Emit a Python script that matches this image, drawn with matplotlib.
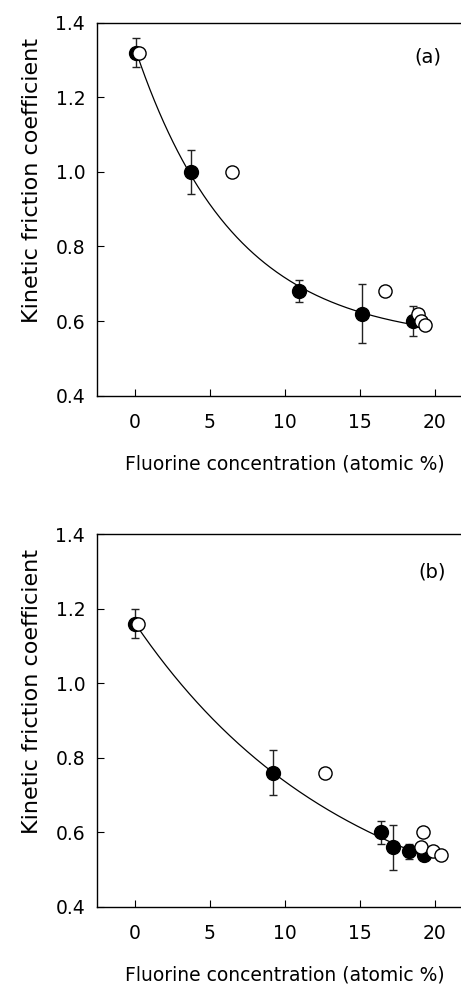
import numpy as np
import matplotlib
matplotlib.use("Agg")
import matplotlib.pyplot as plt

plt.rcParams['font.family'] = ['DejaVu Sans']

# Panel (a)
a_filled_x = [0.1, 3.78, 10.95, 15.18, 18.56]
a_filled_y = [1.32, 1.00, 0.68, 0.62, 0.60]
a_filled_err = [0.04, 0.06, 0.03, 0.08, 0.04]
a_open_x = [0.33, 6.5, 16.7, 18.9, 19.1, 19.35]
a_open_y = [1.32, 1.00, 0.68, 0.62, 0.60, 0.59]

# Panel (b)
b_filled_x = [0.05, 9.2, 16.4, 17.2, 18.3, 19.3]
b_filled_y = [1.16, 0.76, 0.60, 0.56, 0.55, 0.54]
b_filled_err = [0.04, 0.06, 0.03, 0.06, 0.02, 0.0]
b_open_x = [0.25, 12.7, 19.2, 19.1, 19.9, 20.4]
b_open_y = [1.16, 0.76, 0.60, 0.56, 0.55, 0.54]

xticks = [0, 5, 10, 15, 20]
yticks = [0.4, 0.6, 0.8, 1.0, 1.2, 1.4]
panel_labels = ['(a)', '(b)']
panel_label_pos = [(0.883, 0.908), (0.893, 0.898)]


def fit_exp(x, y):
    x = np.asarray(x, float)
    y = np.asarray(y, float)
    best = None
    for b in np.linspace(0.01, 1.0, 2000):
        A = np.vstack([np.ones_like(x), np.exp(-b * x)]).T
        coef, *_ = np.linalg.lstsq(A, y, rcond=None)
        r = np.sum((A @ coef - y) ** 2)
        if best is None or r < best[0]:
            best = (r, b, coef)
    _, b, (c, a) = best
    return c, a, b


fig = plt.figure(figsize=(4.61, 9.90), dpi=100)
W = 375 / 461
H = 373 / 990
positions = [(97 / 461, 1 - 395.7 / 990, W, H), (97 / 461, 1 - 907 / 990, W, H)]
datasets = [
    (a_filled_x, a_filled_y, a_filled_err, a_open_x, a_open_y),
    (b_filled_x, b_filled_y, b_filled_err, b_open_x, b_open_y),
]

for pos, (fx, fy, fe, ox, oy), lab, lpos in zip(positions, datasets, panel_labels, panel_label_pos):
    ax = fig.add_axes(pos)
    ax.set_xlim(-2.5, 22.5)
    ax.set_ylim(0.4, 1.4)
    c, a, b = fit_exp(fx, fy)
    xx = np.linspace(min(fx), max(fx), 300)
    ax.plot(xx, c + a * np.exp(-b * xx), color='black', lw=0.9, zorder=2)
    ax.errorbar(fx, fy, yerr=fe, fmt='none', ecolor='#222222', elinewidth=1.0,
                capsize=3, capthick=1.0, zorder=3)
    ax.plot(fx, fy, 'o', ms=10, mfc='black', mec='black', zorder=4)
    ax.plot(ox, oy, 'o', ms=9.5, mfc='white', mec='black', mew=1.0, zorder=5)
    ax.set_xticks(xticks)
    ax.set_yticks(yticks)
    ax.set_yticklabels([f'{v:.1f}' for v in yticks])
    ax.tick_params(direction='in', length=5, width=0.8, labelsize=13.5)
    ax.tick_params(axis='x', pad=12.5)
    ax.tick_params(axis='y', pad=8.5)
    for s in ax.spines.values():
        s.set_linewidth(1.0)
    ax.set_xlabel('Fluorine concentration (atomic %)', fontsize=13.5, labelpad=16)
    ax.set_ylabel('Kinetic friction coefficient', fontsize=16)
    ax.yaxis.set_label_coords(-0.147, 0.578)
    ax.text(lpos[0], lpos[1], lab, transform=ax.transAxes,
            fontsize=14, ha='center', va='center')

fig.savefig('out.png', dpi=100)
